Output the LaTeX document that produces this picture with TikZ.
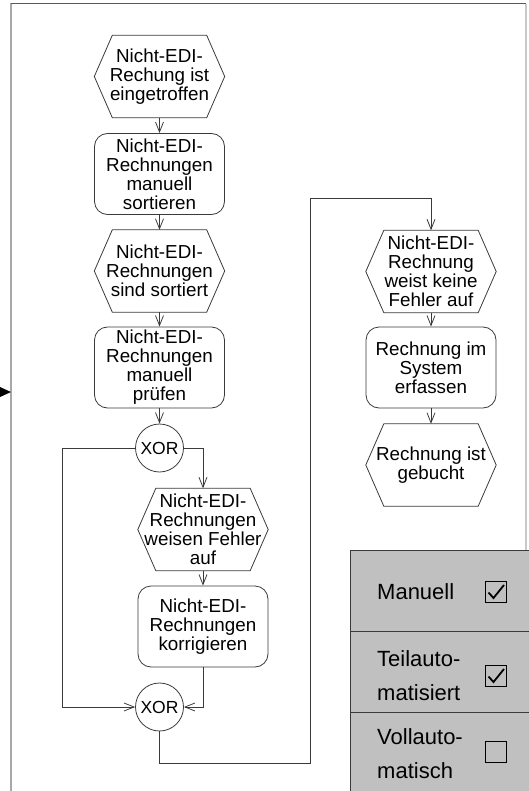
\documentclass[tikz,border=0pt]{standalone}
\usepackage{fontspec}
\setmainfont{Liberation Sans}
\usetikzlibrary{arrows.meta}

\definecolor{linegray}{HTML}{3A3A3A}
\definecolor{legendgray}{HTML}{C0C0C0}
\definecolor{leftframe}{HTML}{A8A8A8}
\definecolor{rightframe}{HTML}{C8C8C8}
\definecolor{topframe}{HTML}{5A5A5A}

% hexagonal outline around an event node
\newcommand\hexframe[1]{%
  \draw[draw=linegray, line width=0.8pt]
    ([xshift=18pt]#1.north west) -- ([xshift=-18pt]#1.north east) -- (#1.east)
    -- ([xshift=-18pt]#1.south east) -- ([xshift=18pt]#1.south west) -- (#1.west) -- cycle;}
% tick inside a checkbox node (shifts are in page points, upwards positive)
\newcommand\tickmark[1]{%
  \draw[black, line width=1.8pt, line join=miter]
    ([xshift=-7.5pt,yshift=-0.5pt]#1.center) -- ([xshift=-2.5pt,yshift=-6pt]#1.center)
    -- ([xshift=8pt,yshift=7pt]#1.center);}

\begin{document}
\begin{tikzpicture}[x=1pt, y=-1pt,
  flowtext/.style={font=\fontsize{18.8}{19}\selectfont, align=center, text=black},
  eventbox/.style={flowtext, minimum width=130pt, minimum height=82pt, inner sep=0pt},
  funcbox/.style={flowtext, draw=linegray, line width=0.8pt, rounded corners=13pt,
    minimum width=130pt, minimum height=81pt, inner sep=0pt},
  xorbox/.style={font=\fontsize{17.5}{19}\selectfont, draw=linegray, line width=0.8pt, circle,
    minimum size=48pt, inner sep=0pt},
  flow/.style={draw=linegray, line width=0.8pt, -{Straight Barb[length=10pt,width=8pt]}},
  legendrow/.style={fill=legendgray, draw=linegray, line width=0.8pt, minimum width=180pt,
    minimum height=81pt, inner sep=0pt},
  legendtext/.style={font=\fontsize{22}{34}\selectfont, align=left, anchor=west, inner sep=0pt},
  checkbox/.style={draw=black, line width=1.4pt, minimum size=21pt, inner sep=0pt}
]
\useasboundingbox (0,0) rectangle (528,791);

% frame of the model sheet
\draw[leftframe, line width=2.5pt] (11,3) -- (11,791);
\draw[rightframe, line width=1.5pt] (526,4) -- (526,791);
\draw[topframe, line width=1pt] (11,4) -- (526,4);

% incoming process link from the left
\coordinate (inA) at (0,387);
\coordinate (inB) at (11,392);
\coordinate (inC) at (0,397);
\fill[black] (inA) -- (inB) -- (inC) -- cycle;

% left column
\node[eventbox] (e1) at (159.5,76.5) {Nicht-EDI-\\Rechung ist\\eingetroffen};
\hexframe{e1}
\node[funcbox] (f1) at (159.5,174) {Nicht-EDI-\\Rechnungen\\manuell\\sortieren};
\node[eventbox] (e2) at (159.5,271) {Nicht-EDI-\\Rechnungen\\sind sortiert};
\hexframe{e2}
\node[funcbox] (f2) at (159.5,367.5) {Nicht-EDI-\\Rechnungen\\manuell\\prüfen};
\node[xorbox] (x1) at (159.5,448) {XOR};

% error branch
\node[eventbox] (e3) at (203,529.5) {Nicht-EDI-\\Rechnungen\\weisen Fehler\\auf};
\hexframe{e3}
\node[funcbox] (f3) at (203,626.5) {Nicht-EDI-\\Rechnungen\\korrigieren};
\node[xorbox] (x2) at (159.5,707) {XOR};

% right column
\node[eventbox] (e4) at (431,271.5) {Nicht-EDI-\\Rechnung\\weist keine\\Fehler auf};
\hexframe{e4}
\node[funcbox] (f4) at (431,367.5) {Rechnung im\\System\\erfassen};
\node[eventbox] (e5) at (431,465) {Rechnung ist\\gebucht};
\hexframe{e5}

% control flow
\draw[flow] (e1) -- (f1);
\draw[flow] (f1) -- (e2);
\draw[flow] (e2) -- (f2);
\draw[flow] (f2) -- (x1);
\draw[flow] (x1.east) -| (e3.north);
\draw[flow] (e3) -- (f3);
\draw[flow] (x1.west) -- (62,448) |- (x2.west);
\draw[flow] (f3.south) |- (x2.east);
\draw[flow] (x2.south) -- (159.5,763) -| (310,198) -| (e4.north);
\draw[flow] (e4) -- (f4);
\draw[flow] (f4) -- (e5);

% degree of automation
\node[legendrow] (r1) at (440,590.5) {};
\node[legendrow] (r2) at (440,671.5) {};
\node[legendrow] (r3) at (440,752.5) {};
\node[legendtext] (t1) at (377,592) {Manuell};
\node[legendtext] (t2) at (377,676) {Teilauto-\\matisiert};
\node[legendtext] (t3) at (377,754) {Vollauto-\\matisch};
\node[checkbox] (c1) at (496,592) {};
\node[checkbox] (c2) at (496,676) {};
\node[checkbox] (c3) at (496,752) {};
\tickmark{c1}
\tickmark{c2}
\end{tikzpicture}
\end{document}
